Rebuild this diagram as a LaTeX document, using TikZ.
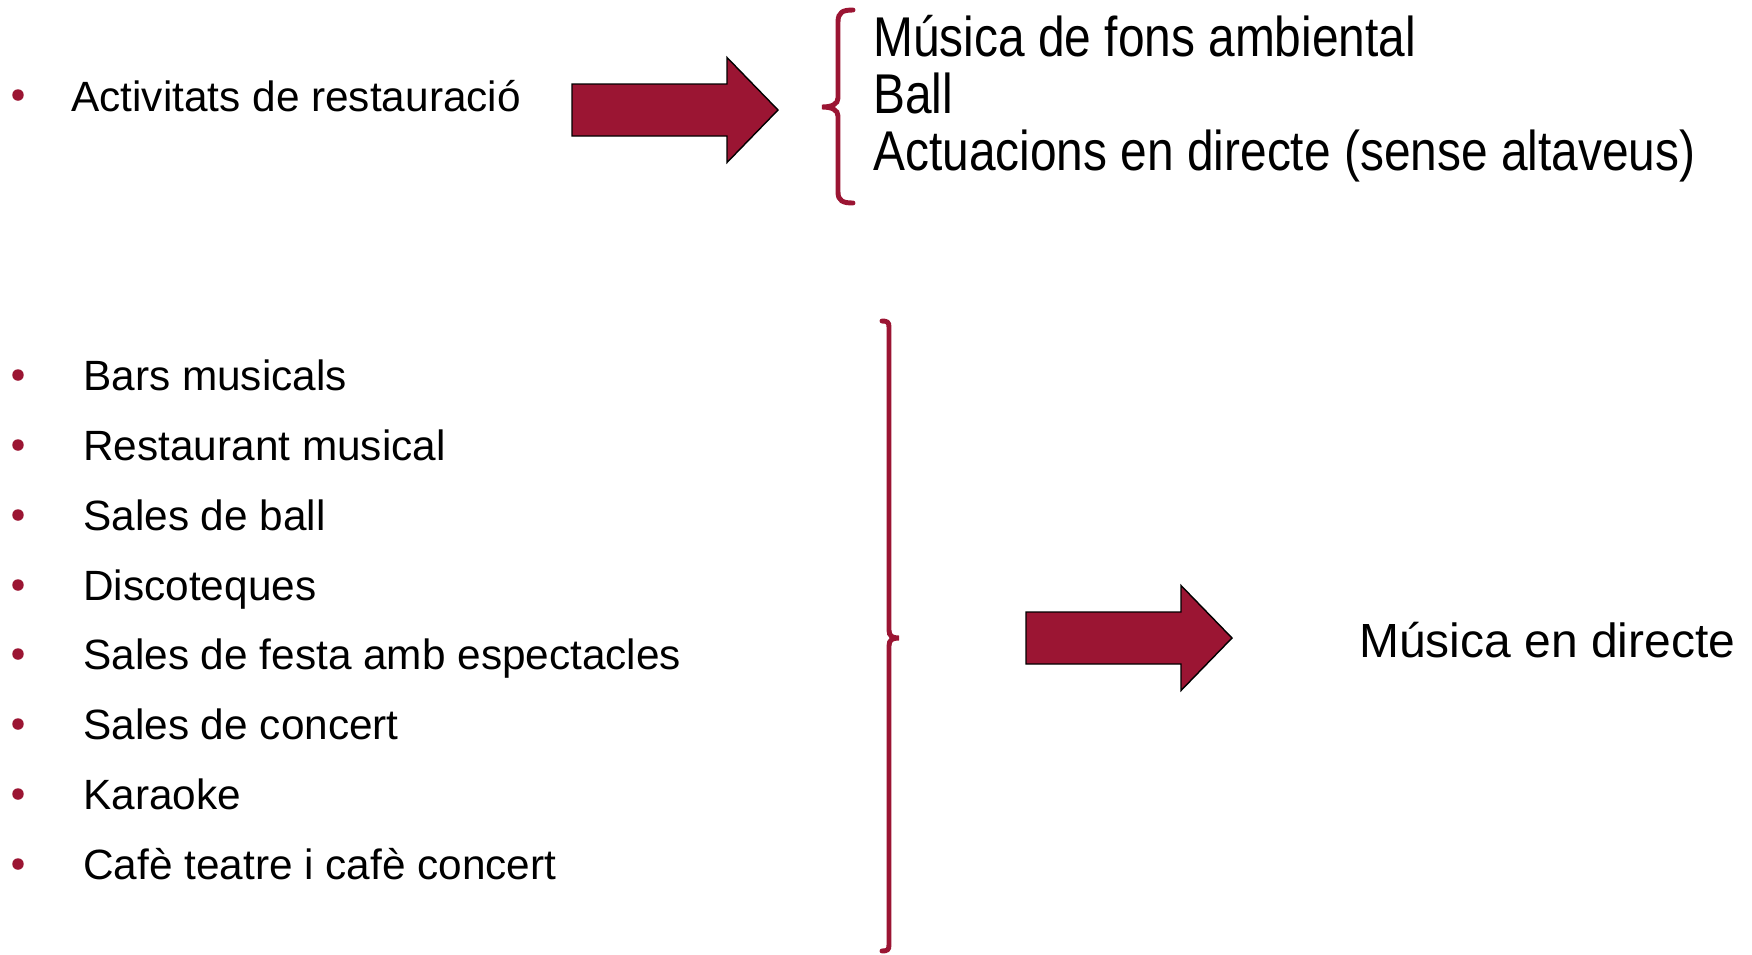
\documentclass[tikz,border=0pt]{standalone}
\usepackage{fontspec}
\setmainfont{Liberation Sans}
\newfontfamily\narrowfont[FakeStretch=0.854]{Liberation Sans}
\definecolor{wine}{RGB}{155,21,51}
\begin{document}
\begin{tikzpicture}
      [x=0.02cm,y=-0.02cm,
      item/.style={anchor=base west,inner sep=0,font=\fontsize{24.1}{29}\selectfont},
      kind/.style={anchor=base west,inner sep=0,font=\narrowfont\fontsize{31.9}{36}\selectfont},
      dot/.style={circle,fill=wine,inner sep=0,minimum size=0.23cm},
      big arrow/.style={fill=wine,draw=black,line width=0.8pt,line join=miter},
      brace line/.style={draw=wine,line width=2.8pt,line cap=round}]
      \useasboundingbox (0,0) rectangle (1752,954);
      % top part
      \node[dot] (d0) at (18,95) {};
      \node[item] (act) at (71,111) {Activitats de restauració};
      \coordinate (a1) at (572,110);
      \draw[big arrow] (a1) ++(0,-26) -- ++(155,0) -- ++(0,-26.5) -- ++(51,52.5)
        -- ++(-51,52.5) -- ++(0,-26.5) -- ++(-155,0) -- cycle;
      \draw[brace line] (853,10) .. controls (843,10) and (838,12) .. (838,22)
        -- (838,98) .. controls (838,104) and (832,107) .. (822,107)
        .. controls (832,107) and (838,110) .. (838,116)
        -- (838,192) .. controls (838,201) and (843,203) .. (853,203);
      \node[kind] (k1) at (873,56) {Música de fons ambiental};
      \node[kind] (k2) at (873,113) {Ball};
      \node[kind] (k3) at (873,170) {Actuacions en directe (sense altaveus)};
      % bottom part
      \node[dot] (d1) at (18,375) {};
      \node[dot] (d2) at (18,445) {};
      \node[dot] (d3) at (18,515) {};
      \node[dot] (d4) at (18,585) {};
      \node[dot] (d5) at (18,654) {};
      \node[dot] (d6) at (18,724) {};
      \node[dot] (d7) at (18,794) {};
      \node[dot] (d8) at (18,864) {};
      \node[item] (l1) at (83,390) {Bars musicals};
      \node[item] (l2) at (83,460) {Restaurant musical};
      \node[item] (l3) at (83,530) {Sales de ball};
      \node[item] (l4) at (83,600) {Discoteques};
      \node[item] (l5) at (83,669) {Sales de festa amb espectacles};
      \node[item] (l6) at (83,739) {Sales de concert};
      \node[item] (l7) at (83,809) {Karaoke};
      \node[item] (l8) at (83,879) {Cafè teatre i cafè concert};
      \draw[brace line] (882,321) .. controls (887,321) and (889,322) .. (889,327)
        -- (889,630) .. controls (889,636) and (892,638) .. (899,638)
        .. controls (892,638) and (889,640) .. (889,646)
        -- (889,945) .. controls (889,950) and (887,951) .. (882,951);
      \coordinate (a2) at (1026,638);
      \draw[big arrow] (a2) ++(0,-26) -- ++(155,0) -- ++(0,-26.5) -- ++(51,52.5)
        -- ++(-51,52.5) -- ++(0,-26.5) -- ++(-155,0) -- cycle;
      \node[item,font=\fontsize{27.3}{32}\selectfont] (live) at (1359,657) {Música en directe};
\end{tikzpicture}
\end{document}
